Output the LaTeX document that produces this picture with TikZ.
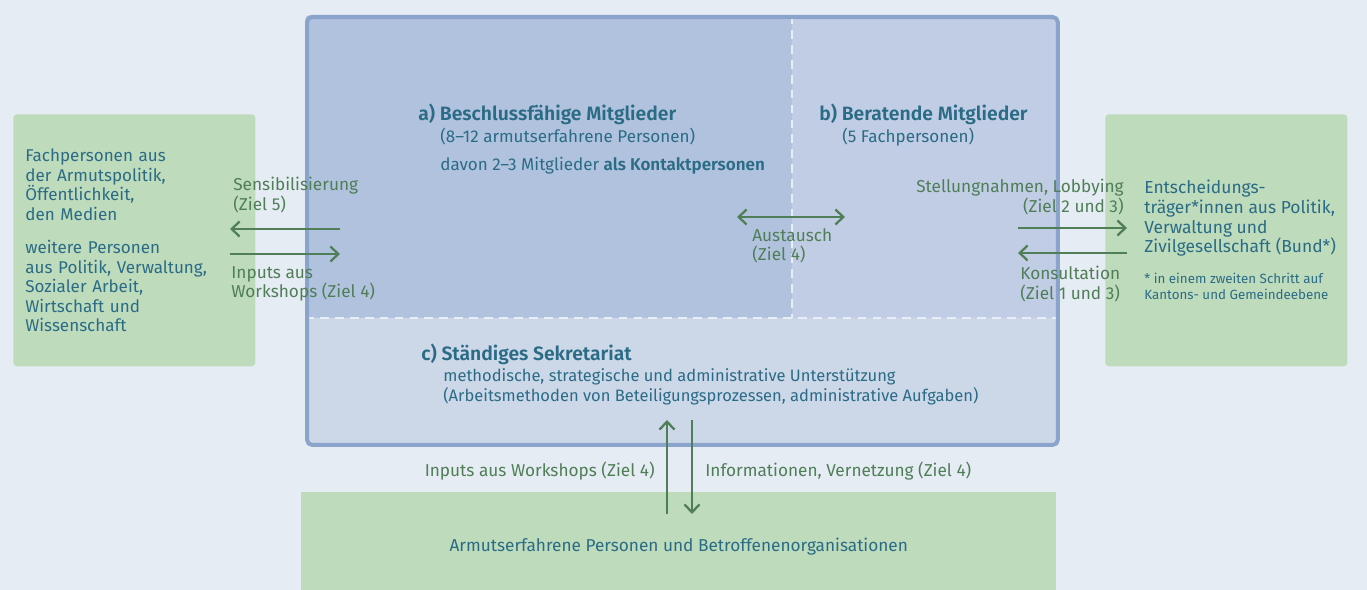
\documentclass[tikz,border=0pt]{standalone}
\usepackage{fontspec}
\setmainfont{Fira Sans}[BoldFont={Fira Sans SemiBold}]
\usetikzlibrary{arrows.meta}

\definecolor{hintergrund}{HTML}{E5ECF3}
\definecolor{gruen}{HTML}{BEDBBB}
\definecolor{feldA}{HTML}{B1C2DE}
\definecolor{feldB}{HTML}{C1CDE4}
\definecolor{feldC}{HTML}{CCD7E8}
\definecolor{rand}{HTML}{8AA4CB}
\definecolor{blautext}{HTML}{2A6B86}
\definecolor{gruentext}{HTML}{4F7E57}
\definecolor{strich}{HTML}{E8EEF5}

\begin{document}
\begin{tikzpicture}
  [x=0.02cm, y=-0.02cm,
   kasten/.style={
    fill=gruen,
    rounded corners=2pt,
    inner sep=0pt,
    anchor=north west},
   titel/.style={
    font=\fontsize{11}{13}\selectfont\bfseries,
    text=blautext,
    inner sep=0pt,
    anchor=north west},
   fliess/.style={
    font=\fontsize{9.7}{11.1}\selectfont,
    text=blautext,
    inner sep=0pt,
    align=left,
    anchor=north west},
   ziel/.style={
    font=\fontsize{9.8}{11.1}\selectfont,
    text=gruentext,
    inner sep=0pt,
    align=left,
    anchor=north west},
   trenner/.style={
    draw=strich,
    line width=1.5pt,
    dash pattern=on 5pt off 3.5pt},
   pfeil/.style={
    draw=gruentext,
    line width=1.3pt,
    arrows={-Straight Barb[length=4.5pt, width=8.5pt]}},
   doppelpfeil/.style={
    pfeil,
    arrows={Straight Barb[length=4.5pt, width=8.5pt]-Straight Barb[length=4.5pt, width=8.5pt]}}]

  \useasboundingbox (0,0) rectangle (1367,590);
  \fill [hintergrund] (0,0) rectangle (1367,590);

  % Gremium
  \begin{scope}
    \clip [rounded corners=3pt] (305,15) rectangle (1056,443);
    \fill [feldC] (305,15) rectangle (1056,443);
    \fill [feldA] (305,15) rectangle (792,318);
    \fill [feldB] (792,15) rectangle (1056,318);
  \end{scope}
  \draw [trenner] (305,318) -- (1056,318);
  \draw [trenner] (792,15) -- (792,318);
  \node [draw=rand, line width=2.3pt, rounded corners=3pt, inner sep=0pt,
    minimum width=15.02cm, minimum height=8.56cm, anchor=north west]
    at (305,15) (gremium) {};

  \node [titel] at (418,104) (beschluss) {a) Beschlussfähige Mitglieder};
  \node [fliess] at (440,128) (beschlusstext) {
    (8–12 armutserfahrene Personen)\\[4.8pt]
    davon 2–3 Mitglieder \textbf{als Kontaktpersonen}};

  \node [titel] at (819,104) (beratend) {b) Beratende Mitglieder};
  \node [fliess] at (842,128) (beratendtext) {(5 Fachpersonen)};

  \node [titel] at (421,344) (sekretariat) {c) Ständiges Sekretariat};
  \node [fliess, font=\fontsize{9.4}{11.4}\selectfont] at (443,368) (sekretariattext) {
    methodische, strategische und administrative Unterstützung\\
    (Arbeitsmethoden von Beteiligungsprozessen, administrative Aufgaben)};

  % Kaesten aussen
  \node [kasten, minimum width=4.84cm, minimum height=5.04cm, text width=4.36cm,
    inner xsep=0.24cm, align=left, font=\fontsize{9.7}{11.1}\selectfont,
    text=blautext] at (13,114) (fachpersonen) {
    Fachpersonen aus\\
    der Armutspolitik,\\
    Öffentlichkeit,\\
    den Medien\\[8pt]
    weitere Personen\\
    aus Politik, Verwaltung,\\
    Sozialer Arbeit,\\
    Wirtschaft und\\
    Wissenschaft};

  \node [kasten, minimum width=4.84cm, minimum height=5.04cm] at (1105,114) (entscheid) {};
  \node [fliess, font=\fontsize{9.9}{11.2}\selectfont] at (1144,180) (traeger) {
    Entscheidungs-\\
    träger*innen aus Politik,\\
    Verwaltung und\\
    Zivilgesellschaft (Bund*)};
  \node [fliess, font=\fontsize{7.6}{9.2}\selectfont] at (1144,273) (fussnote) {
    * in einem zweiten Schritt auf\\
    Kantons- und Gemeindeebene};

  \node [kasten, rounded corners=0pt, minimum width=15.1cm, minimum height=2.16cm,
    font=\fontsize{9.8}{11.1}\selectfont, text=blautext] at (301,492) (betroffene)
    {Armutserfahrene Personen und Betroffenenorganisationen};

  % Pfeile
  \coordinate (sensA) at (340,229);
  \coordinate (sensB) at (230,229);
  \coordinate (inputA) at (230,254);
  \coordinate (inputB) at (340,254);
  \coordinate (austauschA) at (737,217);
  \coordinate (austauschB) at (845,217);
  \coordinate (stellungA) at (1018,228);
  \coordinate (stellungB) at (1127,228);
  \coordinate (konsultA) at (1127,253);
  \coordinate (konsultB) at (1018,253);
  \coordinate (hochA) at (667,514);
  \coordinate (hochB) at (667,420);
  \coordinate (runterA) at (692,420);
  \coordinate (runterB) at (692,514);

  \draw [pfeil] (sensA) -- (sensB);
  \draw [pfeil] (inputA) -- (inputB);
  \draw [doppelpfeil] (austauschA) -- (austauschB);
  \draw [pfeil] (stellungA) -- (stellungB);
  \draw [pfeil] (konsultA) -- (konsultB);
  \draw [pfeil] (hochA) -- (hochB);
  \draw [pfeil] (runterA) -- (runterB);

  \node [ziel] at (233,177) (sensibilisierung) {Sensibilisierung\\(Ziel 5)};
  \node [ziel] at (231,266) (inputs) {Inputs aus\\Workshops (Ziel 4)};
  \node [ziel] at (752,228) (austausch) {Austausch\\(Ziel 4)};
  \node [ziel, align=right, anchor=north east] at (1124,179) (stellung)
    {Stellungnahmen, Lobbying\\(Ziel 2 und 3)};
  \node [ziel] at (1020,266) (konsultation) {Konsultation\\(Ziel 1 und 3)};
  \node [ziel, anchor=east] at (655,471) (inputsunten) {Inputs aus Workshops (Ziel 4)};
  \node [ziel, anchor=west] at (705,471) (informationen) {Informationen, Vernetzung (Ziel 4)};
\end{tikzpicture}
\end{document}
